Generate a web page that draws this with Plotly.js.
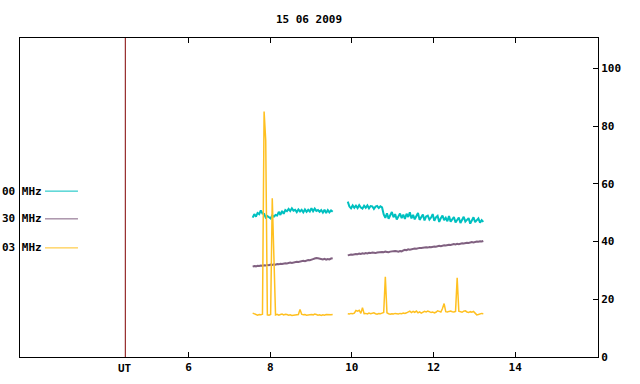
<!DOCTYPE html>
<html>
<head>
<meta charset="utf-8">
<script src="https://cdn.plot.ly/plotly-3.0.1.min.js"></script>
<style>html,body{margin:0;padding:0;background:#fff;}#chart{width:640px;height:384px;}</style>
</head>
<body>
<div id="chart"></div>
<script>
// ---- data ----
const TITLE = "15 06 2009";
const xTicks = [6, 8, 10, 12, 14];
const yTicks = [0, 20, 40, 60, 80, 100];
const UT_LINE = 4.45;
const UT_LABEL = "UT";
const legendLabels = ["00 MHz", "30 MHz", "03 MHz"];
const seriesColors = ["#00c0c0", "#806080", "#ffc020"];

// sampling of the two recorded segments (hours UT)
const seg1Start = 7.57, seg2Start = 9.90, sampleStep = 0.04;

const teal1 = [48.3,49.5,48.6,49.9,49.5,50.8,49.7,49.6,48.3,48.8,48.4,48.0,49.1,48.6,49.2,49.0,50.3,49.2,50.6,49.6,
  50.9,50.5,51.3,50.6,51.5,50.7,51.0,50.2,51.1,50.4,51.0,50.1,51.1,50.3,51.0,50.4,51.5,50.5,51.4,50.6,
  50.9,50.3,50.9,50.0,51.0,49.9,50.9,50.1,50.8,50.3];
const teal2 = [53.8,52.1,51.5,52.5,51.7,52.4,51.6,52.6,51.8,51.4,52.4,51.7,52.5,51.5,52.3,52.2,51.3,52.1,52.3,51.6,52.2,51.8,
  49.4,48.2,49.8,47.9,49.1,50.2,48.4,49.5,47.6,48.9,
  49.7,48.1,49.3,47.8,49.6,48.5,50.1,48.0,49.2,47.7,
  48.8,49.9,47.5,48.6,49.4,47.3,48.7,49.0,47.6,48.3,
  49.5,47.2,48.4,48.9,46.8,48.1,49.0,47.4,48.2,47.0,
  48.8,46.9,47.9,48.5,46.6,47.7,48.3,46.4,47.8,48.6,
  46.9,47.5,48.1,46.2,47.6,48.4,46.7,47.3,48.0,46.5,
  47.4,46.8];

const purple1 = [31.3,31.5,31.4,31.6,31.5,31.7,31.6,31.8,31.7,31.9,
  31.8,32.0,31.9,32.1,32.0,32.2,32.1,32.3,32.2,32.4,
  32.5,32.4,32.6,32.7,32.6,32.8,32.9,33.0,32.9,33.1,
  33.2,33.3,33.2,33.5,33.6,33.5,33.8,33.9,34.1,34.3,
  34.2,34.0,33.9,33.8,34.0,33.7,33.9,33.8,34.1,34.2];
const purple2 = [35.2,35.4,35.5,35.4,35.6,35.7,35.6,35.8,35.7,35.9,
  35.8,36.0,35.9,36.1,36.0,36.2,36.1,36.0,36.2,36.3,
  36.2,36.4,36.3,36.5,36.4,36.3,36.5,36.6,36.5,36.7,
  36.6,36.5,36.7,36.6,36.9,37.1,37.0,37.3,37.2,37.4,
  37.5,37.6,37.5,37.7,37.8,37.8,37.9,37.8,38.0,37.9,
  38.1,38.0,38.2,38.3,38.2,38.4,38.5,38.4,38.6,38.7,
  38.6,38.8,38.9,38.8,39.0,39.1,39.0,39.2,39.1,39.3,
  39.4,39.3,39.5,39.6,39.5,39.7,39.8,39.7,39.9,40.0,
  39.9,40.1,40.0,40.2];

const yellow1 = [15.2,14.9,14.6,14.5,14.7,14.6,14.8,85,75,14.6,
  14.5,14.7,55,29,14.6,14.8,14.5,14.7,14.9,14.6,
  14.8,14.7,14.5,14.6,14.4,14.5,14.6,14.5,14.7,16.5,
  14.8,14.6,14.7,14.5,14.6,14.8,14.7,14.6,14.9,14.7,
  14.5,14.6,14.4,14.6,14.5,14.7,14.6,14.5,14.6,14.7];
const yellow2 = [15.0,14.9,15.1,15.0,15.2,16.1,15.9,16.2,15.1,17.1,
  15.0,15.1,14.9,15.2,15.0,15.1,15.3,15.0,14.8,15.1,
  15.0,15.2,15.4,27.8,15.3,15.0,14.8,15.0,14.9,15.1,
  15.0,14.9,15.1,15.0,15.2,15.1,15.3,15.6,15.9,15.4,
  15.8,15.5,15.9,15.3,15.6,15.2,15.5,15.8,15.6,15.9,
  15.7,15.4,15.6,15.3,15.5,16.0,15.8,15.6,16.8,18.5,
  15.7,15.6,15.8,15.9,15.7,15.6,15.8,27.4,15.9,15.7,
  15.5,15.9,16.0,15.6,15.4,15.7,15.5,15.8,15.3,14.6,
  14.7,15.0,15.1,15.0];

// ---- build traces ----
function times(start, n) { const t = []; for (let i = 0; i < n; i++) t.push(+(start + i * sampleStep).toFixed(3)); return t; }
const t1 = times(seg1Start, teal1.length);
const t2 = times(seg2Start, teal2.length);
const tAll = t1.concat([null], t2);

const seriesData = [teal1.concat([null], teal2), purple1.concat([null], purple2), yellow1.concat([null], yellow2)];
const widths = [2, 2, 1.5];
const traces = seriesData.map((ys, i) => ({
  type: 'scatter', mode: 'lines', x: tAll, y: ys, connectgaps: false,
  line: {color: seriesColors[i], width: widths[i]}, showlegend: false, hoverinfo: 'skip'
}));

const FONT = {family: '"DejaVu Sans Mono", "Liberation Mono", monospace', size: 11, color: '#000'};

// legend (text to the left, sample line to the right)
const legY = [0.520, 0.433, 0.342];
const annotations = legendLabels.map((lab, i) => ({
  xref: 'paper', yref: 'paper', x: -0.0346, y: legY[i], xanchor: 'left', yanchor: 'middle',
  text: '<b>' + lab + '</b>', showarrow: false, font: FONT
}));
annotations.push({xref: 'x', yref: 'paper', x: UT_LINE, y: 0, xanchor: 'center', yanchor: 'top', yshift: -3,
  text: '<b>' + UT_LABEL + '</b>', showarrow: false, font: FONT});

const shapes = legendLabels.map((lab, i) => ({
  type: 'line', xref: 'paper', yref: 'paper', x0: 0.0433, x1: 0.1003, y0: legY[i], y1: legY[i],
  line: {color: seriesColors[i], width: 1}
}));
shapes.push({type: 'line', xref: 'x', yref: 'paper', x0: UT_LINE, x1: UT_LINE, y0: 0, y1: 1,
  line: {color: '#800000', width: 1}});

const layout = {
  width: 640, height: 384,
  margin: {l: 20, r: 42, t: 38, b: 27},
  paper_bgcolor: '#fff', plot_bgcolor: '#fff',
  title: {text: '<b>' + TITLE + '</b>', x: 0.5, xref: 'paper', y: 0.95, yref: 'container', yanchor: 'middle', font: FONT},
  xaxis: {range: [1.87, 16.03], tickvals: xTicks, ticktext: xTicks.map(v => '<b>' + v + '</b>'),
    ticks: 'inside', ticklen: 5, tickcolor: '#000', showline: true, linecolor: '#000', linewidth: 1,
    mirror: 'ticks', showgrid: false, zeroline: false, tickfont: FONT},
  yaxis: {range: [0, 110.5], side: 'right', tickvals: yTicks, ticktext: yTicks.map(v => '<b>' + v + '</b>'),
    ticks: 'inside', ticklen: 5, tickcolor: '#000', showline: true, linecolor: '#000', linewidth: 1,
    mirror: true, showgrid: false, zeroline: false, tickfont: FONT},
  annotations: annotations,
  shapes: shapes
};

Plotly.newPlot('chart', traces, layout, {staticPlot: true, displayModeBar: false});
</script>
</body>
</html>
